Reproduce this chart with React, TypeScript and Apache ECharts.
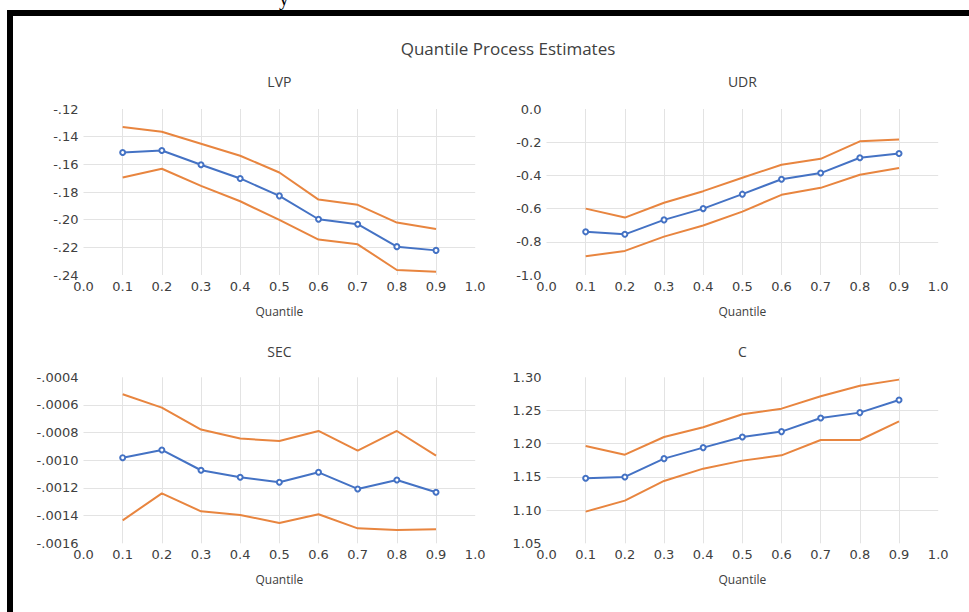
import React, { useEffect, useRef } from "react";
import * as echarts from "echarts";

const quantiles = [0.1, 0.2, 0.3, 0.4, 0.5, 0.6, 0.7, 0.8, 0.9];

const lvpEst = [-0.1514, -0.15, -0.1603, -0.1702, -0.1828, -0.1997, -0.2033, -0.2195, -0.2222];
const lvpUpper = [-0.133, -0.1364, -0.1451, -0.1538, -0.1659, -0.1855, -0.1893, -0.2021, -0.2067];
const lvpLower = [-0.1695, -0.1632, -0.1756, -0.1867, -0.2002, -0.2144, -0.2178, -0.2364, -0.2376];

const udrEst = [-0.74, -0.755, -0.668, -0.6, -0.513, -0.423, -0.386, -0.294, -0.268];
const udrUpper = [-0.6, -0.654, -0.565, -0.495, -0.414, -0.336, -0.3, -0.195, -0.183];
const udrLower = [-0.887, -0.855, -0.769, -0.702, -0.618, -0.517, -0.475, -0.396, -0.356];

const secEst = [-0.000981, -0.000925, -0.001072, -0.001123, -0.001159, -0.001087, -0.001207, -0.001142, -0.001231];
const secUpper = [-0.000523, -0.000619, -0.000778, -0.000843, -0.00086, -0.000788, -0.00093, -0.000788, -0.000966];
const secLower = [-0.001434, -0.001239, -0.001369, -0.001395, -0.001453, -0.00139, -0.001492, -0.001504, -0.001499];

const cEst = [1.1479, 1.1499, 1.1775, 1.1941, 1.2101, 1.2182, 1.2388, 1.2468, 1.2659];
const cUpper = [1.1966, 1.1835, 1.2101, 1.2247, 1.2443, 1.2528, 1.2714, 1.2874, 1.2965];
const cLower = [1.0977, 1.1143, 1.1439, 1.1624, 1.1745, 1.1825, 1.2056, 1.2056, 1.2337];

const mainTitle = "Quantile Process Estimates";
const panelTitles = ["LVP", "UDR", "SEC", "C"];
const xAxisName = "Quantile";

const BLUE = "#4472C4";
const ORANGE = "#E8853F";
const GRID = "#e3e3e3";
const TXT = "#404040";
const TICK_FONT = "DejaVu Sans";
const LABEL_FONT = "Open Sans";

const toPairs = (vals: number[]) => quantiles.map((q, i) => [q, vals[i]]);
const noLead = (s: string) => s.replace("0.", ".");

export default function App() {
  const ref = useRef<HTMLDivElement>(null);

  useEffect(() => {
    if (!ref.current) return;
    const chart = echarts.init(ref.current, undefined, { renderer: "svg" });

    const grids = [
      { left: 83.5, top: 109, width: 391.7, height: 166 },
      { left: 546.5, top: 109, width: 391.7, height: 166 },
      { left: 83.5, top: 377.3, width: 391.7, height: 166 },
      { left: 546.5, top: 377.3, width: 391.7, height: 166 },
    ];

    const yDefs = [
      { min: -0.24, max: -0.12, interval: 0.02, fmt: (v: number) => noLead(v.toFixed(2)) },
      { min: -1.0, max: 0.0, interval: 0.2, fmt: (v: number) => v.toFixed(1) },
      { min: -0.0016, max: -0.0004, interval: 0.0002, fmt: (v: number) => noLead(v.toFixed(4)) },
      { min: 1.05, max: 1.3, interval: 0.05, fmt: (v: number) => v.toFixed(2) },
    ];

    const ySplitColors = (n: number) => {
      const arr: string[] = [];
      for (let i = 0; i <= n; i++) arr.push(i === 0 || i === n ? "rgba(0,0,0,0)" : GRID);
      return arr;
    };

    const xAxes = grids.map((_, i) => ({
      type: "value" as const,
      gridIndex: i,
      min: 0,
      max: 1,
      interval: 0.1,
      name: xAxisName,
      nameLocation: "middle" as const,
      nameGap: 30,
      nameTextStyle: { fontFamily: LABEL_FONT, fontSize: 12, color: TXT },
      axisLine: { show: false },
      axisTick: { show: false },
      axisLabel: {
        fontFamily: TICK_FONT,
        fontSize: 13,
        color: TXT,
        margin: 5,
        formatter: (v: number) => v.toFixed(1),
      },
      splitLine: { show: true, lineStyle: { color: ySplitColors(10), width: 1 } },
    }));

    const yAxes = yDefs.map((d, i) => ({
      type: "value" as const,
      gridIndex: i,
      min: d.min,
      max: d.max,
      interval: d.interval,
      axisLine: { show: false },
      axisTick: { show: false },
      axisLabel: {
        fontFamily: TICK_FONT,
        fontSize: 13,
        color: TXT,
        margin: 5,
        formatter: d.fmt,
      },
      splitLine: {
        show: true,
        lineStyle: { color: ySplitColors(Math.round((d.max - d.min) / d.interval)), width: 1 },
      },
    }));

    const panels = [
      [lvpEst, lvpUpper, lvpLower],
      [udrEst, udrUpper, udrLower],
      [secEst, secUpper, secLower],
      [cEst, cUpper, cLower],
    ];

    const series: any[] = [];
    panels.forEach((p, i) => {
      series.push({
        type: "line",
        xAxisIndex: i,
        yAxisIndex: i,
        data: toPairs(p[1]),
        showSymbol: false,
        lineStyle: { color: ORANGE, width: 2 },
        itemStyle: { color: ORANGE },
        z: 2,
      });
      series.push({
        type: "line",
        xAxisIndex: i,
        yAxisIndex: i,
        data: toPairs(p[2]),
        showSymbol: false,
        lineStyle: { color: ORANGE, width: 2 },
        itemStyle: { color: ORANGE },
        z: 2,
      });
      series.push({
        type: "line",
        xAxisIndex: i,
        yAxisIndex: i,
        data: toPairs(p[0]),
        symbol: "emptyCircle",
        symbolSize: 5,
        lineStyle: { color: BLUE, width: 2 },
        itemStyle: { color: BLUE, borderWidth: 1.5 },
        z: 3,
      });
    });

    const titlePos = [
      [279.4, 81],
      [742.4, 81],
      [279.4, 351],
      [742.4, 351],
    ];

    const graphic: any[] = [
      { type: "rect", shape: { x: 7, y: 10, width: 6, height: 602 }, style: { fill: "#000" }, z: 100 },
      { type: "rect", shape: { x: 7, y: 10, width: 962, height: 6 }, style: { fill: "#000" }, z: 100 },
      {
        type: "text",
        x: 284,
        y: 8,
        style: {
          text: "y",
          fontFamily: "Liberation Serif",
          fontSize: 20,
          fill: "#000",
          align: "center",
          verticalAlign: "bottom",
        },
      },
      {
        type: "text",
        x: 508,
        y: 48,
        style: {
          text: mainTitle,
          fontFamily: LABEL_FONT,
          fontSize: 17,
          fill: TXT,
          align: "center",
          verticalAlign: "middle",
        },
      },
      ...panelTitles.map((t, i) => ({
        type: "text",
        x: titlePos[i][0],
        y: titlePos[i][1],
        style: {
          text: t,
          fontFamily: LABEL_FONT,
          fontSize: 14,
          fill: TXT,
          align: "center",
          verticalAlign: "middle",
        },
      })),
    ];

    chart.setOption({
      animation: false,
      backgroundColor: "#fff",
      grid: grids,
      xAxis: xAxes,
      yAxis: yAxes,
      series,
      graphic,
    });

    return () => chart.dispose();
  }, []);

  return (
    <div
      ref={ref}
      style={{ position: "fixed", left: 0, top: 0, width: 969, height: 612 }}
    />
  );
}
